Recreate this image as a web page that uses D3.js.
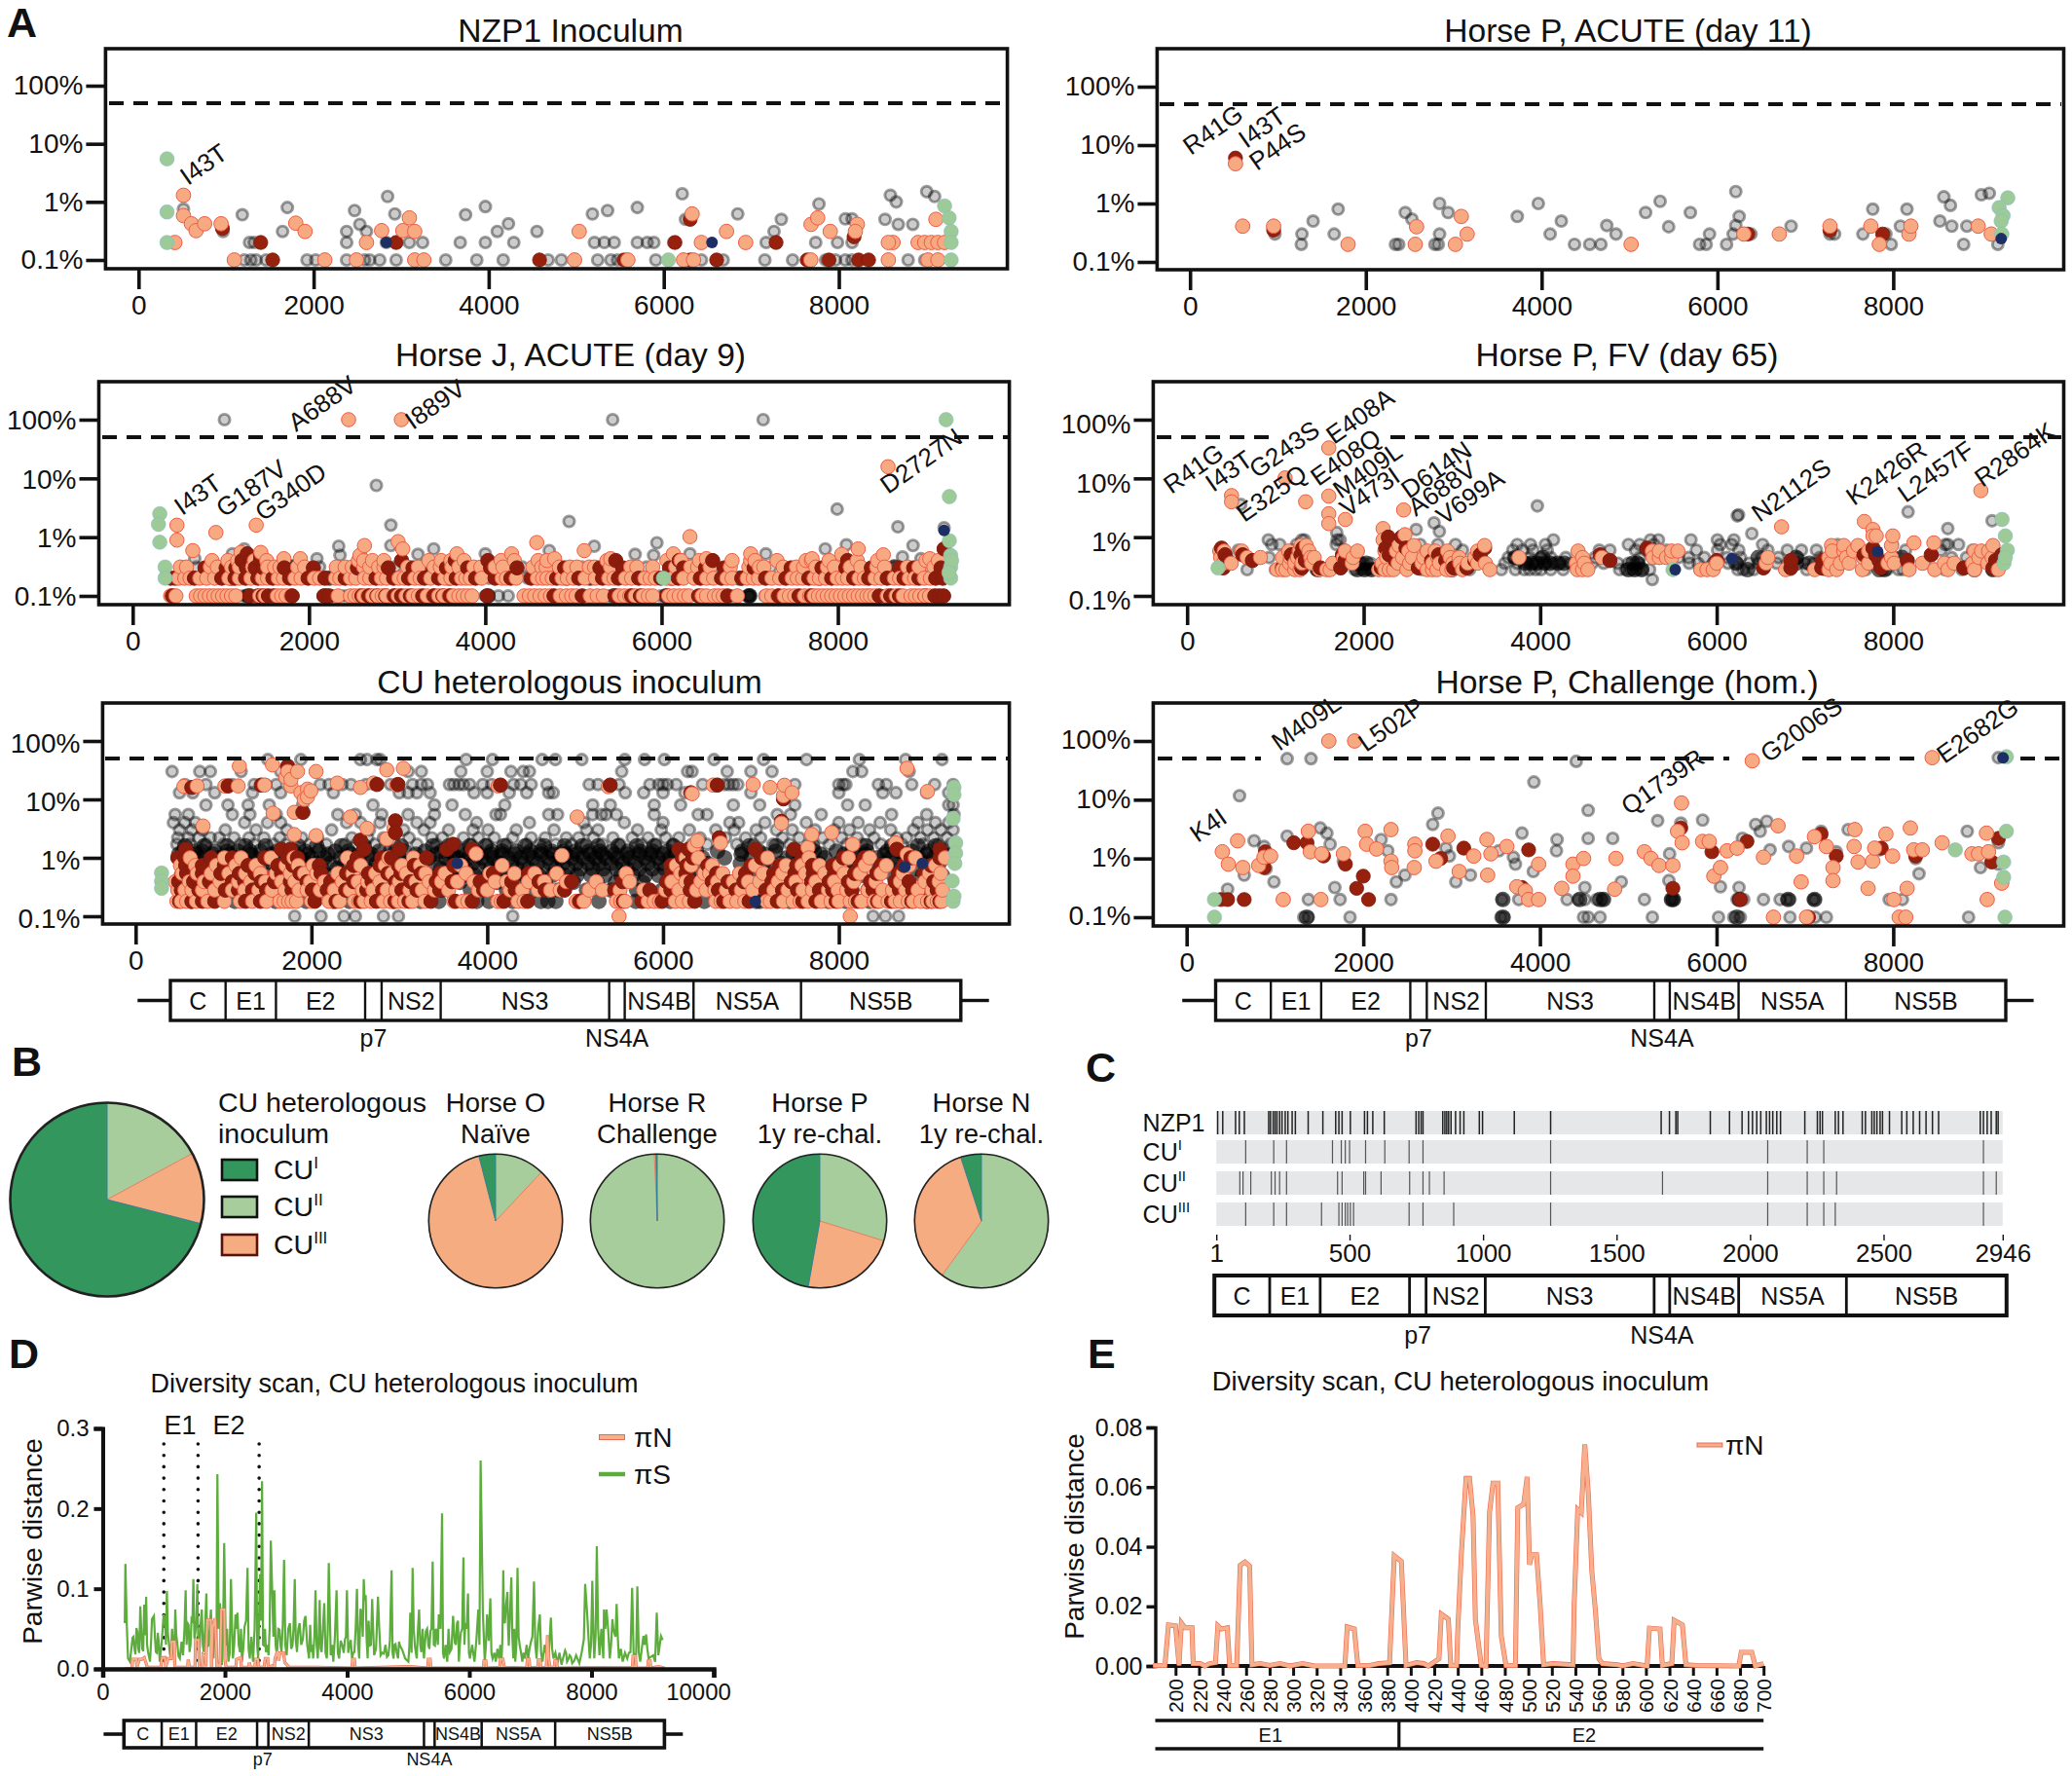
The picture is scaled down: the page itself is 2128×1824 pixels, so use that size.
<!DOCTYPE html>
<html>
<head>
<meta charset="utf-8">
<script src="https://cdn.jsdelivr.net/npm/d3@7"></script>
<style>
  html, body { margin: 0; padding: 0; background: #fff; }
  text { font-family: "Liberation Sans", Arial, sans-serif; fill: #111; }
</style>
</head>
<body>
<svg id="fig" width="2128" height="1824">
  <defs><filter id="soft" x="-2%" y="-2%" width="104%" height="104%"><feGaussianBlur stdDeviation="0.6"/></filter></defs>
</svg>
<script>
// series are lists of [position, freq %] or rows of [freq %, [positions]]
var nzpGrey = [
  [0.1,[1208,1283,1343,1457,1925,2023,2377,2581,2641,2755,2943,3509,3864,4166,4679,4830,5245,5396,5472,5547,5909,6264,6430,6604,6679,7155,7472,7849,7962,8075,8151,8566,8792,8981]],
  [0.2,[1268,1321,2377,2830,3094,3245,3675,3962,4287,5208,5321,5434,5698,5811,5887,6113,7170,7736,7985,8151]],
  [513,0.75],[966,0.31],[1185,0.6],[1645,0.31],[1700,0.8],[2845,1.24],[2468,0.71],[2528,0.41],[2377,0.31],[2604,0.31],[2928,0.62],[3736,0.6],[3962,0.83],[4226,0.42],[4098,0.31],[4551,0.31],[5185,0.62],[5358,0.71],[5698,0.8],[6211,1.38],[6249,0.5],[6845,0.62],[7260,0.31],[7343,0.5],[7773,0.92],[8075,0.51],[8151,0.51],[8589,1.3],[8656,1.0],[8528,0.5],[8679,0.41],[8845,0.41],[9004,1.5],[9094,1.24]
];
var nzpRed = [[1396,0.2],[1532,0.1],[2943,0.2],[4581,0.1],[5547,0.1],[6128,0.2],[6302,0.1],[6604,0.1],[7283,0.2],[7638,0.1],[7887,0.1],[8226,0.1],[8340,0.1],[958,0.35],[6302,0.5],[8174,0.25]];
var nzpOrange = [
  [0.1,[1094,2128,2490,3155,3260,4981,5590,6226,6340,7680,8566,9019,9132]],
  [0.2,[415,2604,6430,6936,8619,8566,8906,8981,9057,9132,9208]],
  [513,1.3],[513,0.58],[604,0.42],[657,0.32],[755,0.42],[943,0.42],[1796,0.43],[1902,0.31],[2777,0.32],[3094,0.53],[3019,0.32],[3155,0.31],[5034,0.31],[6324,0.62],[6717,0.31],[7683,0.41],[7758,0.53],[7902,0.31],[8211,0.41],[8189,0.31],[9109,0.5]
];
var nzpGreen = [[325,5.5],[325,0.67],[325,0.2],[6053,0.1],[9208,0.85],[9260,0.53],[9283,0.31],[9283,0.2],[9283,0.1]];
var nzpNavy = [[2830,0.2],[6551,0.2]];

var acuteGrey = [
  [0.2,[1266,2337,2374,2786,2824,4374,4547,4674,5797,5872,6104,7977,8801,9190]],
  [0.3,[966,1273,1640,2839,4097,4846,5910,6179,6382,7280,7333,7655,7917]],
  [1400,0.5],[1685,0.8],[2449,0.7],[2524,0.54],[2839,1.0],[2936,0.7],[3723,0.6],[3962,1],[4224,0.5],[4741,0.42],[5445,0.4],[5183,0.7],[5348,1.09],[5692,0.7],[6209,1.6],[6247,0.6],[6209,0.42],[6838,0.41],[7767,0.8],[8156,0.8],[8082,0.41],[8576,1.3],[8651,0.93],[8531,0.5],[8666,0.41],[8838,0.41],[9003,1.41],[9093,1.5]
];
var acuteRed = [[517,6],[951,0.35],[6345,0.3],[7880,0.3],[7280,0.35]];
var acuteOrange = [[517,4.8],[599,0.41],[951,0.41],[1798,0.2],[2562,0.2],[2577,0.4],[3019,0.2],[3086,0.6],[3153,0.3],[5018,0.2],[6300,0.3],[6704,0.3],[7280,0.41],[7745,0.41],[7842,0.2],[8179,0.3],[8201,0.41],[8966,0.41],[9115,0.3]];
var acuteGreen = [[9303,1.25],[9205,0.85],[9250,0.62],[9228,0.5],[9235,0.3]];
var acuteNavy = [[9228,0.25]];

var jGrey = [
  [0.1,[1250,1290,1320,1520,2160,2200,2260,2360,2420,4000,4040,4150,4260,5260,5400,5470,5650,5990,6050,6430,6800,6990,7000,7170,7300,7520,8530]],
  [0.2,[780,1120,1560,1980,2220,2700,3080,3220,3360,3590,4040,4480,4920,5190,5610,6110,6540,6890,7320,7790,8160,8610,8990]],
  [0.31,[720,1240,1800,2120,2980,3300,3980,4420,4760,5100,5360,5830,6250,6620,7240,7700,8170,8640,9030]],
  [1041,100],[5445,100],[7153,100],[2764,7.6],[7992,3],[4951,1.85],[2929,1.6],[8681,1.5],[9205,1.45],[5947,0.8],[5236,0.7],[2337,0.7],[2352,0.49],[3415,0.63],[2929,0.72],[6322,0.52],[7857,0.63],[8097,0.74],[8853,0.72],[5700,0.51],[5910,0.49],[4726,0.59],[1266,0.63],[1131,0.52],[3236,0.51],[4000,0.52],[7183,0.52],[8733,0.46],[8943,0.43],[2090,0.43],[704,0.43],[914,0.31]
];
var jCore = [
  [0.1,[1310,2190,4030,5460,6050,6990,7000]],
  [0.2,[1120,2230,3590,4920,5190,6110,6890,7790]],
  [0.31,[1240,1800,3300,3980,5360,6250,8170,8640]]
];
var jRed = [
  [0.1,[450,1330,1420,1480,1540,1600,1810,2170,2230,2600,2680,2770,2870,2970,3050,3150,3290,3420,3520,3600,4020,4780,5100,5470,5660,5760,6060,6420,6750,7330,7560,7700,8470,8600,8700,8990,9100,9150,9200]],
  [0.2,[430,480,700,1010,1160,1280,1420,1590,1780,1990,2180,2410,2760,2960,3130,3310,3470,3670,3890,4110,4290,4520,4810,5060,5330,5510,5740,5990,6190,6440,6680,6910,7180,7410,7670,7930,8180,8350,8560,8750,8920,9110,9190]],
  [0.3,[820,1060,1170,1290,1390,1480,1720,2050,2550,2900,3180,3560,3800,4060,4360,4900,5300,5560,6090,6250,6500,6710,7050,7470,7820,8090,8380,8700,8860,9170]],
  [0.4,[1240,1340,1450,3050,3660,4030,5480,6200,6580,8110]],
  [1300,0.52],[1450,0.5],[9205,0.63]
];
var jOrange = [
  [0.1,[430,490,720,770,820,870,920,970,1020,1070,1120,1170,1440,1500,1640,1690,1740,1800,2330,2470,2520,2570,2620,2670,2720,2780,2830,2880,2960,3010,3100,3180,3240,3340,3410,3470,3530,3590,3640,3700,3750,3800,3850,4440,4500,4560,4620,4680,4740,4850,4920,4980,5030,5190,5270,5340,5520,5580,5640,5700,5790,5850,5900,6080,6140,6200,6260,6310,6460,6510,6600,6650,6700,6860,7190,7250,7320,7390,7450,7510,7620,7680,7730,7780,7830,7880,7930,7980,8030,8080,8130,8180,8230,8280,8330,8370,8420,8560,8660,8740,8830,8880,8930,8990,9040]],
  [0.2,[520,590,650,760,840,930,1090,1210,1340,1470,1530,1650,1710,1840,1910,2060,2120,2300,2350,2470,2530,2630,2690,2820,2880,3020,3080,3200,3260,3380,3540,3610,3730,3780,3830,3960,4190,4240,4350,4590,4650,4700,4760,4870,4930,5000,5130,5250,5400,5460,5590,5660,5810,5870,5930,6060,6130,6250,6370,6510,6590,6740,6800,6970,7040,7100,7250,7340,7480,7540,7600,7730,7790,7860,7990,8050,8110,8240,8300,8420,8490,8640,8700,8810,8870,8980,9050]],
  [0.31,[540,610,880,960,1120,1210,1360,1530,1610,1670,1870,1950,2310,2410,2490,2620,2690,2790,2850,3120,3240,3420,3490,3620,3700,3870,3950,4110,4200,4540,4640,4690,4840,4960,5040,5180,5240,5420,5650,5720,5900,6160,6330,6410,6550,6780,6990,7110,7160,7380,7530,7610,7750,7880,7960,8140,8260,8440,8530,8790,8920,9090]],
  [0.4,[900,1080,1190,1380,1520,2620,2560,2720,2850,3360,3500,3610,3760,4180,4330,4600,4700,5380,6060,6220,6430,6800,7010,7060,7310,7640,7700,7900,8220,8450,9000,9140]],
  [2449,100],[3048,100],[8569,15.8],[502,1.6],[944,1.2],[1401,1.6],[502,0.89],[682,0.59],[4584,0.81],[5123,0.59],[6322,1.02],[2629,0.72],[3011,0.84],[8231,0.63],[8516,0.5],[8044,0.51],[7011,0.52],[6134,0.52],[4299,0.52],[3678,0.52],[1228,0.55],[1453,0.55],[2577,0.49],[3063,0.63],[1715,0.43],[1902,0.43],[7707,0.43],[9043,0.43],[5423,0.43],[4786,0.43],[6509,0.43]
];
var jGreen = [[307,2.5],[292,1.65],[307,0.82],[9228,100],[9265,4.9],[9265,0.87],[9280,0.49],[9280,0.31],[9280,0.2],[367,0.31],[367,0.2],[6022,0.2],[9290,0.4],[9260,0.25]];
var jNavy = [[9205,1.3]];

var cuGrey = [
  [48,[1504,1880,2557,2632,2745,2783,3760,4060,4625,4775,5076,5565,5790,6016,6580,7144,7633,8234,8760,9174]],
  [30,[415,730,850,1200,1650,3100,3250,3700,4000,4270,4410,4480,5530,6280,6330,6730,7000,7240,8160,8260,8800]],
  [18,[560,800,1100,1350,1480,1600,2100,2200,2350,2450,2620,2900,3150,3250,3320,3570,3620,3680,3730,3800,3950,4050,4300,4380,4500,4680,5160,5260,5500,5850,5950,6000,6050,6150,6450,6700,6750,6800,6850,7500,8000,8050,8080,8450,8540,8830,9090,9300]],
  [13,[500,650,900,1330,1650,2250,3000,3100,3200,3350,3850,4000,4250,4450,4700,4750,5570,5780,6000,6250,7000,8000,8500,8650,9000,9250]],
  [8,[800,1050,1280,1520,1900,2700,3400,3600,4200,5200,5400,5900,6200,6800,7100,7500,8100,8300,9250,9300]],
  [5.5,[450,600,1100,1300,1600,2300,2500,2800,3100,3400,3750,4100,4150,4700,4800,5200,5300,5350,5470,5900,6400,6500,7300,7450,7800,8600,9000,9310]],
  [4,[430,560,680,1240,1500,1650,2400,2560,2780,2950,3200,3350,3880,4480,5100,5560,6000,6760,6860,7160,7630,8000,8220,8470,8900,9100,9250]],
  [3,[500,640,760,1020,1370,1720,2230,2660,3050,3280,3560,3840,4010,4330,4760,5130,5260,5710,5980,6300,6600,6810,7060,7290,7470,7730,7950,8120,8350,8590,8850,9010,9160,9300]],
  [2.2,[480,600,720,850,950,1120,1290,1460,1640,1890,2070,2460,2640,2820,3110,3370,3490,3730,3900,4080,4290,4500,4660,4900,5040,5210,5430,5650,5830,6030,6180,6420,6710,6940,7110,7360,7550,7820,8030,8210,8400,8660,8770,8930,9080,9230]],
  [1.7,[470,620,800,1000,1190,1350,1570,1710,1980,2170,2380,2510,2720,2950,3200,3420,3640,3820,4000,4220,4450,4600,4780,4960,5120,5310,5510,5760,5920,6110,6330,6500,6840,7030,7250,7440,7660,7890,8090,8270,8480,8720,8960,9130,9270]],
  [0.1,[1810,2110,2370,2500,2820,2990,4290,8390,8530,8680]]
];
var cuCore = [
  [1.6,[560,780,1040,1250,1480,1850,2060,2340,2600,3020,3380,3560,3800,3980,4190,4430,4650,4880,5080,5260,5490,5700,5900,6120,6980,7290,7700,8310,8600,8900,9100]],
  [1.3,[540,670,760,900,1040,1160,1300,1420,1610,1800,1930,2090,2270,2420,2590,2770,2900,3060,3290,3480,3590,3710,3870,4050,4170,4330,4490,4610,4730,4870,5000,5160,5280,5420,5600,5740,5880,6050,6210,6380,6620,6900,7090,7280,7520,7720,7970,8150,8320,8550,8680,8830,9020,9210]],
  [1.15,[490,690,880,1080,1310,1540,1760,1960,2190,2450,2680,2930,3190,3420,3610,3760,3900,4040,4170,4320,4470,4610,4750,4890,5020,5170,5310,5450,5590,5730,5860,6000,6140,6300,6890,7150,7480,7790,8060,8300,8520,8770,9000,9190]],
  [1.0,[520,640,760,960,1120,1360,1500,1680,1880,2000,2150,2330,2500,2680,2840,3000,3170,3340,3530,3660,3790,3940,4070,4240,4380,4520,4690,4830,4960,5090,5230,5350,5480,5620,5790,5940,6080,6260,6450,6700,7000,7190,7410,7610,7840,8050,8230,8440,8590,8750,8910,9080,9190]],
  [0.8,[560,700,880,1010,1130,1260,1440,1560,1730,1950,2060,2210,2380,2550,2740,2880,3080,3250,3390,3560,3700,3830,3990,4130,4280,4410,4570,4720,4860,5010,5150,5270,5410,5540,5680,5830,5970,6130,6310,6510,6880,7140,7340,7560,7770,7990,8180,8370,8510,8640,8800,8980,9140]],
  [0.65,[640,790,930,1200,1330,1620,1830,2120,2290,2620,2810,2970,3130,3470,3610,3760,3910,4040,4190,4340,4470,4630,4780,4920,5060,5200,5320,5470,5590,5730,5880,6020,6170,6350,7040,7250,7650,7930,8100,8470,8700,8870,9050]],
  [0.5,[520,680,860,1080,1280,1520,1740,2010,2190,2430,2700,2930,3210,3430,3580,3730,3860,4010,4150,4300,4430,4590,4740,4890,5020,5180,5340,5520,5660,5800,5950,6120,6290,7180,7480,7870,8250,8620,8950,9180]],
  [0.38,[760,1040,1380,1650,1900,2350,2560,2880,3310,3690,3950,4110,4380,4660,4980,5250,5460,5770,6060,6220,6880,7320,7720,8080,8410,8760,9100]],
  [0.28,[590,930,1230,1720,2110,2470,2760,3050,3480,3810,4220,4540,4810,5130,5410,5700,5990,6170,6770,7200,7640,7990,8330,8680,9040]],
  [0.18,[630,1130,1590,1940,2250,2430,2930,3240,3450,3880,4020,4290,4610,4690,4780,5040,5270,5690,6080,6470,7060,7100,7440,7880,8080,8350,8720,9000]]
];
var cuRed = [
  [0.18,[500,640,760,900,1250,1420,2040,2280,2560,2740,2950,3110,3360,3640,3830,4190,4460,5050,5550,5760,5990,6360,6690,6980,7300,7590,7740,7970,8220,8440,8600,8830,9050,9150]],
  [0.28,[520,720,1020,1170,1330,1490,1780,2010,2180,2390,2630,2810,3030,3200,3460,3960,4320,4660,4880,5450,5850,6090,6310,6630,6830,7170,7360,7530,7780,7930,8150,8390,8690,8840,9120]],
  [0.39,[490,660,840,1100,1240,1430,1580,1760,1950,2220,2480,2690,2960,3130,3420,3600,3920,4280,4590,4960,5540,6040,6320,6560,6740,6920,7240,7460,7690,7890,8110,8360,8640,8800,9080]],
  [0.54,[580,760,970,1180,1360,1660,1870,2110,2400,2650,2870,3020,3250,3460,4070,4470,6100,6260,6610,6940,7260,7500,7710,7950,8180,8430,8680,8970]],
  [0.74,[570,760,1010,1280,1620,1790,2090,2480,2780,2990,3170,3620,6090,6270,6510,7000,7330,7520,7700,7930,8240,8480,8740,9050]],
  [1.0,[480,560,860,1100,1470,1730,1840,2520,2800,2910,3310,6220,6340,7120,7580,8050,8290,8820,9150]],
  [1.4,[570,1660,1760,2600,3000,3540,3830,6180,6290,7050,7490,7640,8660,9150]],
  [1730,37],[639,16],[1053,17],[1429,17.6],[2745,18],[2985,18],[4151,17.6],[5399,17.6],[6317,13],[6618,17.6],[7370,10.2],[1903,6],[2955,4.3],[2955,2.7],[2557,2],[7347,4.2],[6640,2.2],[3610,1.7]
];
var cuOrange = [
  [0.18,[470,520,580,690,820,1010,1190,1330,1490,1640,1690,1740,1780,1830,2000,2200,2320,2490,2540,2600,2680,2820,2900,2990,3060,3150,3290,3620,3720,3780,4120,4160,4350,4420,5010,5100,5470,5520,5570,5830,5900,5960,6140,6220,6300,6600,6660,6760,6840,6930,7180,7220,7370,7480,7560,7650,7800,7910,8000,8130,8190,8260,8400,8460,8560,8640,8700,8790,8850,8930,9010,9070,9120,9170]],
  [0.28,[480,560,640,760,900,1100,1240,1400,1550,1700,1860,1950,2100,2260,2440,2580,2700,2860,2960,3120,3260,3400,3560,3900,4000,4260,4400,4580,4720,4830,5160,5310,5510,5780,6030,6180,6380,6490,6590,6720,6890,7020,7260,7420,7590,7700,7880,7990,8090,8330,8500,8610,8760,8900,9060,9180]],
  [0.39,[450,610,780,960,1170,1310,1480,1660,1810,1990,2150,2350,2530,2640,2780,3000,3190,3340,3480,3660,3850,4090,4220,4470,4650,4900,5240,5620,6100,6260,6430,6620,6800,6970,7100,7310,7510,7740,7950,8170,8420,8700,8980,9140]],
  [0.54,[530,700,860,1060,1250,1420,1600,1760,1920,2060,2300,2470,2730,2920,3080,3300,3520,3760,4030,4310,4540,4790,5580,6200,6470,6530,6680,6870,7140,7360,7620,7840,8060,8240,8480,8730,9030,9160]],
  [0.74,[510,680,920,1140,1370,1710,1850,2020,2560,2840,3030,3240,3700,4170,6150,6320,6560,7050,7400,7580,7780,8010,8300,8540,8800,9100]],
  [1.0,[620,1010,1200,1540,1800,2410,2880,3160,6260,6400,7190,7660,8110,8350,8870,9210]],
  [5500,0.1],[8130,0.1],
  [1180,37],[1557,39],[1730,30],[1842,30],[2053,30],[2857,32],[3046,34],[8776,34],[549,16.7],[699,17],[1015,17],[1166,17],[1466,17.6],[1767,17],[1955,15],[1993,14],[2294,19],[2557,16],[2707,19],[2970,17.6],[4125,17],[5377,16.5],[6332,12.5],[6570,17.6],[7025,18],[7219,16],[7380,17.5],[7467,13],[7370,11.5],[9009,13.7],[1564,5.8],[1805,6],[1918,10],[1767,22],[1707,24],[1880,13],[1955,11],[2444,5],[767,3.5],[2632,3.2],[5023,5],[1805,2.5],[2053,2.4],[2940,3.2],[2857,2.1],[4850,1.1],[3873,1.17],[7347,3.9],[7693,2.5],[7919,2.7],[8159,1.7],[8648,1.8],[6392,1.95],[6655,1.8],[6355,1.6],[7648,1.5],[8776,1.15]
];
var cuGreen = [[295,0.55],[295,0.4],[295,0.3],[9310,16],[9310,12],[9300,4.7],[9330,1.8],[9330,1.2],[9320,0.8],[9290,0.4],[9300,0.18],[9310,0.22]];
var cuNavy = [[7050,0.18],[3660,0.8],[8750,0.7],[8950,0.8]];

var fvGrey = [
  [0.28,[680,1000,1460,1520,1900,1980,2040,2100,2170,2660,3200,3560,3720,3820,3880,3950,4010,4120,4260,4900,4970,5040,5100,5160,5240,5810,6240,6300,6420,6830,7020,7220,7690,7880,7930,8060,8110,8580,8780,9120,9170]],
  [0.36,[2000,2080,2630,3040,3600,3740,3850,3920,3980,4060,4150,4230,4340,4430,4590,4720,4880,5000,5120,5690,5790,5960,6130,6230,6370,6470,6680,6840,7000,7100,7410,7730,7880,7960,8350,8620,8880,9110]],
  [0.45,[930,1130,1830,2320,2690,3250,3640,3700,3880,4010,4120,4290,4620,4730,5130,5350,5570,5680,5860,6120,6270,6510,6700,6920,7170,7650,7840,8020,8660,8830,9110]],
  [0.6,[400,580,1200,1290,1780,2610,3120,3690,3800,3920,4080,4670,4790,5080,5200,5430,5770,6010,6250,6580,6800,6960,7130,8140,8540,8900]],
  [0.75,[960,1050,1240,1690,2640,2840,3040,3740,3890,4060,5000,5130,5290,6040,6170,6520,7370,7990,8590,8620,8740]],
  [0.9,[920,1300,1330,1700,5250,5340,5708,6008,6195,4150]],
  [0.19,[5270]],
  [3968,3.4],[6233,2.3],[6248,2.4],[8168,2.7],[9120,1.9],[8618,1.4],[2798,1.75],[2858,1.25],[2595,1.35],[1695,1.2],[1733,0.9],[6398,1.15],[608,3.6]
];
var fvCore = [
  [0.36,[1950,2030,3830,3900,3960,4050,4110,4200,4270,5050,5100,6220,6900,7050,7870,7930,9140]],
  [0.28,[1480,1930,2010,2090,3000,5000,5070,5150,6350,7840,7900,8920,9130]],
  [0.45,[1780,3720,4030,6470,6900,8100]]
];
var fvRed = [
  [0.3,[410,1080,1300,1510,1740,2200,2620,3020,3090,3170,6530,6840,7190,7860,8800,9130]],
  [0.4,[460,740,1220,1340,1790,2360,2770,2930,3260,4790,6000,6840,7200,7840,8160,9160]],
  [0.5,[430,630,1180,1290,1760,2290,2850,3320,4680,7670,7800,8430,9230]],
  [0.65,[390,1310,1340,2250,2480,3370,5210,7770]],
  [1.0,[2280,2430]]
];
var fvOrange = [
  [0.28,[1020,1080,1120,1220,1280,1500,1580,1620,2170,2240,2290,2340,2490,2720,2780,2830,2940,3000,3120,3430,4420,4480,4540,5820,5890,5960,6780,7110,7270,7360,7650,8180,8470,8620,8920,9190]],
  [0.36,[410,500,1160,1220,1300,1410,1650,1870,2210,2390,2520,2660,2780,2860,3010,3090,3180,3290,3380,4410,4500,6000,6560,7290,7400,7500,7720,7940,8010,8330,8580,8690,8900,9070]],
  [0.45,[380,680,830,1080,1170,1250,1400,1440,1770,1880,2260,2440,2550,2680,2840,2980,3080,3260,3760,4480,4700,5280,5350,5430,5490,6580,7270,7470,7660,7980,8970,9120]],
  [0.58,[370,420,620,1150,1270,1380,1790,1930,2240,2370,2510,2720,2810,2950,3290,4430,5270,5350,5490,5560,7310,7440,7550,7720,8920,9000,9080]],
  [0.72,[1290,1350,2400,2570,3370,7300,7440,7600,7980,9130]],
  [503,5.1],[503,4],[1110,10.2],[1343,4],[1605,33],[1605,5],[1605,2.5],[1605,1.7],[1793,2],[2453,2.9],[2220,1.4],[2220,0.9],[2468,1.1],[6735,1.5],[7673,1.85],[7770,1.35],[7808,1.05],[7995,1.05],[8235,0.8],[8460,0.8],[8993,6.2],[7770,1.05]
];
var fvGreen = [[9233,2],[9270,1.05],[9293,0.6],[9255,0.36],[9270,0.45],[5505,0.28],[350,0.3]];
var fvNavy = [[7823,0.57],[6173,0.43],[5530,0.28]];

var chGrey = [
  [0.2,[464,1378,1738,2060,2314,3573,3760,4307,4434,4509,4644,4719,5183,5483,5520,6232,6307,6531,6719,6794,6831,7093,7115,7954,8104]],
  [0.1,[1326,1378,1850,3558,3595,4494,4546,4681,5273,6022,6194,6269,6831,7115,7243,8853]],
  [1138,50],[1408,50],[4411,45],[9190,52],[3932,20],[599,11.7],[4546,6.6],[2846,5.9],[2786,3.8],[5333,4.4],[5595,4.0],[5842,4.5],[6442,3.8],[6569,4.3],[6494,2.9],[3797,2.7],[1513,3.3],[1588,2.7],[1138,2.4],[2202,2.1],[764,2.0],[876,1.6],[1625,1.75],[2277,1.35],[4194,2.1],[4187,1.35],[4546,2.2],[4824,2.2],[6292,2.2],[6606,1.4],[6816,1.6],[7018,1.5],[7183,2.9],[7355,1.3],[7490,3.1],[7842,1.4],[8254,1],[8292,0.55],[8838,2.9],[8988,0.7],[9191,1.85],[9191,0.8],[989,0.4],[899,0.67],[652,0.52],[1775,0.9],[1678,0.32],[2374,0.4],[2472,0.52],[2974,1.1],[2936,1.5],[3048,0.4],[3213,0.52],[3535,1.35],[3700,1.05],[3723,0.8],[3925,0.6],[4509,0.32],[4921,0.4],[5460,0.42],[5468,1.2],[6044,0.33],[6254,0.32],[464,0.3]
];
var chCore = [[0.2,[3580,4450,4680,4720,5490,5510,6260,6810,7110]],[0.1,[1360,3580,6230]]];
var chRed = [[1213,1.85],[1363,1.85],[1550,1.1],[1798,0.8],[1925,0.31],[2000,0.5],[2060,0.2],[2786,1.75],[2876,1],[3138,1.5],[3872,1.4],[3797,0.32],[5505,0.31],[5595,3.3],[5947,1.3],[6269,0.2],[6344,1.95],[7041,0.1],[7183,2.6],[7355,1.1],[7865,1.5],[8254,1.1],[876,0.7],[891,1.3],[9191,2.2],[9116,0.87],[652,0.2],[389,0.2],[464,0.2]];
var chOrange = [[1610,100],[1902,100],[6404,46],[8441,52],[5603,8.8],[577,2.0],[404,1.3],[472,0.8],[637,0.7],[816,0.76],[876,1.05],[951,1.1],[1094,0.2],[1378,2.9],[1400,1.3],[1528,1.2],[1520,0.2],[1775,1.2],[2022,2.9],[2037,1.75],[2150,1.45],[2314,3.1],[2314,0.9],[2322,0.7],[2584,1.75],[2584,1.35],[2577,0.7],[2824,0.9],[2959,2.4],[3086,0.6],[3251,1.1],[3400,2.1],[3408,0.52],[3445,1.2],[3625,1.6],[3738,0.33],[3835,0.28],[3872,0.2],[3985,0.8],[3985,0.2],[4247,0.31],[4374,0.8],[4374,0.5],[4494,1],[4861,1],[4846,0.3],[5183,1.3],[5258,1],[5348,0.76],[5505,0.76],[5558,2.9],[5610,1.85],[5842,1.95],[5917,1.95],[5969,0.5],[6044,0.7],[6119,1.35],[6232,1.5],[6531,1.05],[6696,3.6],[6644,0.1],[6906,1.1],[6958,0.4],[7018,0.1],[7108,2.35],[7243,1.6],[7318,0.7],[7318,0.42],[7557,1.6],[7565,3.1],[7602,0.87],[7715,0.31],[7767,0.9],[7790,1.5],[7917,2.6],[7992,1.1],[8007,0.2],[8067,0.1],[8142,0.1],[8157,0.31],[8194,3.3],[8232,1.4],[8329,1.4],[8554,1.85],[8891,1.2],[8966,1.2],[9056,2.7],[9064,0.2],[9079,1.3],[9228,0.38]];
var chGreen = [[315,0.2],[315,0.1],[8703,1.4],[9281,2.9],[9250,0.87],[9250,0.48],[9265,0.1],[9281,54]];
var chNavy = [[9243,52]];

var geneEdges = [397,1026,1600,2616,2804,3477,5397,5574,6358,7583,9404];
var geneNames = ["C","E1","E2","","NS2","NS3","","NS4B","NS5A","NS5B"];

var pieNames = ["CU heterologous inoculum","Horse O","Horse R","Horse P","Horse N"];
var pieSub = ["","Naïve","Challenge","1y re-chal.","1y re-chal."];
var pieInoculum = [17.1,11.9,71];
var pieO = [12,84,4];
var pieR = [99.3,0.4,0.3];
var pieP = [29.8,23,47.2];
var pieN = [60,35,5];
var pieColors = ["#a6cd9b","#f5ac80","#33965c"];
var pieEdges = ["#a6cd9b","#e8775c","#2e7fa0"];

var conNZP1 = [6,25,73,87,106,197,204,214,221,228,238,247,259,269,285,297,345,400,448,460,472,503,556,567,587,630,749,759,768,775,849,857,864,871,880,897,914,928,986,998,1117,1253,1667,1698,1722,1729,1851,1923,1970,1994,2009,2025,2040,2061,2073,2085,2100,2114,2205,2252,2262,2271,2319,2331,2348,2420,2432,2456,2465,2475,2487,2496,2522,2568,2587,2611,2635,2659,2683,2706,2862,2874,2888,2903,2922,2929];
var conCU1 = [111,216,264,436,469,484,500,560,632,723,775,1253,2066,2214,2276,2874];
var conCU2 = [89,101,130,207,221,238,264,455,472,553,560,618,725,775,799,854,1253,1672,2066,2214,2276,2324,2874,2922];
var conCU3 = [111,216,264,395,460,472,484,493,503,515,723,775,890,1253,2066,2214,2276,2319,2874];
var conTicks = [1,500,1000,1500,2000,2500,2946];

var piSx = [361,371,393,414,446,488,520,552,583,615,647,679,711,742,774,806,838,870,901,933,965,997,1018,1050,1082,1113,1156,1188,1219,1262,1315,1357,1389,1421,1453,1484,1516,1548,1580,1622,1654,1696,1728,1771,1813,1845,1877,1919,1951,1988,2014,2057,2099,2131,2173,2205,2248,2279,2322,2370,2407,2460,2513,2544,2576,2608,2640,2672,2714,2751,2778,2809,2852,2894,2926,2968,3011,3064,3106,3143,3180,3223,3276,3318,3377,3414,3445,3483,3520,3551,3583,3626,3668,3700,3732,3774,3827,3869,3922,3965,3997,4039,4081,4119,4161,4198,4240,4272,4304,4336,4368,4410,4442,4505,4548,4601,4675,4728,4760,4792,4834,4865,4907,4950,5003,5034,5072,5109,5140,5178,5215,5257,5289,5331,5363,5400,5437,5469,5501,5554,5586,5639,5681,5734,5761,5798,5829,5861,5904,5935,5978,6010,6084,6147,6185,6222,6253,6291,6344,6381,6434,6487,6529,6556,6582,6624,6646,6688,6720,6752,6789,6826,6868,6911,6964,7006,7059,7101,7154,7197,7271,7335,7377,7441,7510,7568,7600,7642,7684,7748,7801,7875,7896,7928,7971,8013,8045,8087,8130,8193,8204,8246,8299,8342,8373,8411,8448,8511,8585,8638,8665,8713,8750,8797,8850,8893,8935,9009,9041,9068,9094,9137,9165];
var piSy = [.057,.131,.057,.013,.009,.039,.025,.051,.025,.078,.025,.080,.090,.021,.009,.062,.066,.021,.045,.009,.033,.068,.062,.097,.033,.013,.025,.074,.033,.013,.017,.098,.057,.021,.062,.112,.045,.106,.013,.074,.021,.094,.029,.074,.013,.045,.243,.082,.005,.157,.029,.009,.112,.013,.068,.070,.021,.009,.053,.126,.013,.009,.195,.013,.118,.234,.029,.021,.017,.160,.086,.098,.017,.049,.021,.136,.017,.057,.029,.112,.021,.057,.037,.066,.013,.021,.013,.098,.013,.086,.021,.082,.013,.132,.017,.009,.098,.013,.029,.037,.098,.029,.013,.021,.100,.013,.070,.112,.092,.013,.029,.087,.017,.090,.017,.019,.017,.123,.013,.031,.013,.029,.023,.013,.009,.070,.126,.029,.013,.074,.021,.013,.047,.029,.047,.134,.029,.045,.068,.194,.013,.009,.021,.066,.033,.057,.009,.045,.139,.057,.094,.013,.009,.074,.260,.070,.009,.068,.088,.013,.009,.013,.013,.123,.057,.096,.029,.114,.013,.009,.126,.029,.009,.013,.013,.033,.109,.013,.068,.009,.013,.064,.013,.007,.005,.023,.009,.017,.007,.017,.007,.037,.106,.070,.013,.110,.013,.153,.017,.013,.074,.074,.013,.062,.045,.081,.013,.009,.013,.021,.101,.013,.103,.009,.041,.043,.013,.017,.009,.070,.017,.041,.036];
// low level hatching between the peaks
var piSlow = [[500,.04],[535,.018],[568,.046],[598,.02],[630,.05],[663,.022],[695,.042],[726,.03],[792,.035],[854,.04],[886,.02],[917,.034],[981,.05],[1035,.03],[1066,.045],[1098,.02],[1135,.05],[1172,.02],[1204,.042],[1240,.016],[1290,.034],[1338,.05],[1373,.03],[1405,.055],[1437,.03],[1469,.06],[1500,.038],[1532,.06],[1564,.03],[1601,.055],[1638,.03],[1675,.05],[1712,.028],[1750,.05],[1792,.03],[1829,.05],[1861,.022],[1898,.05],[1935,.024],[1970,.05],[2035,.05],[2078,.02],[2115,.06],[2152,.03],[2189,.05],[2226,.03],[2263,.05],[2300,.025],[2346,.06],[2388,.025],[2433,.04],[2486,.05],[2528,.03],[2590,.06],[2624,.03],[2656,.05],[2693,.03],[2732,.05],[2793,.04],[2830,.03],[2873,.05],[2910,.03],[2947,.055],[2989,.03],[3037,.05],[3085,.025],[3123,.05],[3160,.035],[3201,.05],[3249,.03],[3297,.06],[3347,.03],[3395,.055],[3429,.03],[3464,.04],[3501,.03],[3535,.04],[3567,.025],[3604,.05],[3647,.02],[3684,.05],[3753,.03],[3800,.04],[3848,.02],[3895,.035],[3944,.02],[3981,.04],[4018,.02],[4060,.036],[4100,.02],[4140,.05],[4180,.03],[4219,.075],[4256,.04],[4288,.085],[4320,.035],[4352,.06],[4389,.03],[4426,.05],[4473,.025],[4526,.05],[4574,.02],[4628,.03],[4652,.015],[4700,.035],[4744,.02],[4776,.03],[4813,.02],[4850,.034],[5020,.03],[5055,.02],[5090,.05],[5125,.02],[5160,.05],[5197,.03],[5236,.05],[5273,.03],[5310,.05],[5347,.025],[5381,.05],[5419,.03],[5453,.05],[5485,.03],[5528,.05],[5570,.02],[5612,.03],[5660,.05],[5708,.025],[5747,.05],[5780,.03],[5815,.06],[5845,.03],[5883,.05],[5920,.03],[5957,.05],[5994,.02],[6047,.03],[6115,.035],[6166,.03],[6272,.03],[6318,.035],[6362,.02],[6410,.02],[6460,.025],[6508,.03],[6542,.04],[6569,.06],[6603,.08],[6635,.05],[6667,.07],[6704,.04],[6736,.05],[6770,.03],[6807,.04],[6847,.02],[6890,.02],[6938,.03],[6985,.025],[7032,.04],[7080,.03],[7127,.05],[7175,.02],[7234,.03],[7303,.02],[7356,.025],[7409,.02],[7475,.02],[7539,.015],[7584,.02],[7621,.012],[7663,.015],[7716,.01],[7775,.012],[7838,.02],[7950,.04],[7992,.03],[8029,.05],[8066,.04],[8108,.05],[8161,.05],[8225,.05],[8272,.05],[8320,.03],[8357,.05],[8392,.04],[8430,.04],[8480,.025],[8548,.02],[8612,.02],[8689,.02],[8731,.02],[8774,.02],[8823,.025],[8871,.03],[8914,.025],[8972,.015]];
var piNscan = [[361,0],[480,0],[490,.012],[550,.012],[560,.002],[600,.012],[640,.012],[680,.014],[730,.002],[950,.002],[970,.014],[1020,.014],[1030,.002],[1070,.013],[1120,.013],[1130,.034],[1170,.034],[1180,.002],[1390,.002],[1400,.012],[1420,.002],[1510,.002],[1520,.036],[1570,.036],[1580,.002],[1630,.002],[1640,.018],[1680,.016],[1690,.003],[1710,.061],[1770,.061],[1780,.002],[1800,.052],[1840,.063],[1870,.002],[1880,.006],[1920,.002],[1940,.074],[1990,.074],[2000,.012],[2020,.002],[2180,.002],[2190,.012],[2260,.014],[2270,.002],[2390,.002],[2400,.008],[2420,.002],[2490,.002],[2500,.012],[2540,.012],[2550,.002],[2640,.002],[2660,.013],[2700,.013],[2710,.002],[2770,.004],[2810,.002],[2820,.013],[2860,.022],[2880,.010],[2900,.02],[2960,.02],[2980,.008],[3050,.002],[3500,.002],[4080,.001],[4090,.012],[4120,.012],[4130,.001],[5020,.003],[5320,.001],[5330,.012],[5360,.012],[5370,.001],[6230,.001],[6240,.01],[6270,.01],[6280,.001],[6500,.002],[6510,.012],[6550,.012],[6570,.002],[6940,.001],[6950,.012],[6980,.012],[6990,.001],[7120,.002],[7130,.011],[7160,.011],[7170,.001],[7260,.002],[7280,.042],[7300,.012],[7320,.002],[7390,.002],[7400,.01],[7430,.01],[7440,.001],[8670,.002],[8680,.016],[8720,.016],[8730,.001],[8920,.001],[8930,.01],[8960,.01],[8970,.001],[9100,.003],[9200,.001]];
var scanTicks = [0,2000,4000,6000,8000,10000];
var scanY = [0,0.1,0.2,0.3];
var regionLines = [1000,1560,2560];

var e2aa = [181,191,194,200,203,205,208,214,215,221,225,229,234,236,239,244,246,252,255,259,263,265,272,280,289,297,308,318,344,346,352,355,365,373,382,386,392,396,405,411,415,424,426,432,434,439,440,443,447,450,453,455,460,464,467,470,474,477,481,489,491,496,499,501,503,507,510,513,521,538,539,542,545,548,551,554,557,560,563,576,580,589,601,603,612,614,622,624,631,634,643,679,681,690,693,700];
var e2pi = [.0002,.0002,.0138,.0135,.0002,.0144,.0128,.0128,.0008,.0008,0,.0008,.0011,.0135,.0124,.0128,.0002,.0002,.0338,.0349,.0335,.0004,.0008,.0002,.0008,0,.0008,0,0,.0131,.0124,.0002,.0002,.0008,.0011,.0370,.0351,.0002,.0011,.0008,0,.0024,.0174,.0157,.0002,.0002,.0120,.0373,.0629,.0629,.0504,.0155,.0002,0,.0515,.0613,.0613,.0100,.0002,.0002,.0531,.0542,.0634,.0340,.0373,.0373,.0209,.0004,.0008,.0004,.0209,.0525,.0514,.0743,.0580,.0318,.0187,.0024,.0008,.0004,0,.0008,0,.0127,.0124,.0002,.0008,.0153,.0138,.0004,.0002,0,.0046,.0046,0,.0008];
var eTicks = [200,220,240,260,280,300,320,340,360,380,400,420,440,460,480,500,520,540,560,580,600,620,640,660,680,700];
var eY = [0,0.02,0.04,0.06,0.08];
var eBoundary = 390;

var svg = d3.select("#fig");

function flat(s) {
  return s.flatMap(function(d) {
    return Array.isArray(d[1]) ? d[1].map(function(x) { return [x, d[0]]; }) : [d];
  });
}

function genomeMap(m) {
  var g = svg.append("g");
  var x = d3.scaleLinear().domain([geneEdges[0], geneEdges[10]]).range([m.l, m.r]);
  var w = m.sw;
  g.append("line").attr("x1", m.ll).attr("x2", m.l).attr("y1", (m.t + m.b) / 2).attr("y2", (m.t + m.b) / 2).attr("stroke", "#111").attr("stroke-width", w);
  g.append("line").attr("x1", m.r).attr("x2", m.lr).attr("y1", (m.t + m.b) / 2).attr("y2", (m.t + m.b) / 2).attr("stroke", "#111").attr("stroke-width", w);
  g.append("rect").attr("x", m.l).attr("y", m.t).attr("width", m.r - m.l).attr("height", m.b - m.t)
    .attr("fill", "#fff").attr("stroke", "#111").attr("stroke-width", w);
  geneEdges.slice(1, 10).forEach(function(e) {
    g.append("line").attr("x1", x(e)).attr("x2", x(e)).attr("y1", m.t).attr("y2", m.b).attr("stroke", "#111").attr("stroke-width", w * 0.7);
  });
  geneNames.forEach(function(n, i) {
    if (!n) return;
    g.append("text").attr("x", (x(geneEdges[i]) + x(geneEdges[i + 1])) / 2).attr("y", (m.t + m.b) / 2).attr("dy", "0.36em")
      .attr("text-anchor", "middle").attr("font-size", m.fs).text(n);
  });
  g.append("text").attr("x", x((geneEdges[3] + geneEdges[4]) / 2)).attr("y", m.ly).attr("dy", "0.36em").attr("text-anchor", "middle").attr("font-size", m.fs).text("p7");
  g.append("text").attr("x", x((geneEdges[6] + geneEdges[7]) / 2)).attr("y", m.ly).attr("dy", "0.36em").attr("text-anchor", "middle").attr("font-size", m.fs).text("NS4A");
}

function dots(g, data, x, y, r, fill, stroke, sw) {
  g.append("g").selectAll("circle").data(flat(data)).join("circle")
    .attr("cx", function(d) { return x(d[0]); }).attr("cy", function(d) { return y(d[1]); }).attr("r", r)
    .attr("fill", fill).attr("stroke", stroke).attr("stroke-width", sw);
}

// red and orange drawn in position order so neighbours leave crescents
function mixedDots(g, red, orange, x, y) {
  var all = flat(red).map(function(d) { return [d[0], d[1], "r"]; })
    .concat(flat(orange).map(function(d) { return [d[0], d[1], "o"]; }))
    .sort(function(a, b) { return a[0] - b[0]; });
  g.append("g").selectAll("circle").data(all).join("circle")
    .attr("cx", function(d) { return x(d[0]); }).attr("cy", function(d) { return y(d[1]); }).attr("r", 7.3)
    .attr("fill", function(d) { return d[2] == "r" ? "#8e1f0e" : "#f7a982"; })
    .attr("stroke", function(d) { return d[2] == "r" ? "#7d1a0c" : "#ee5a44"; })
    .attr("stroke-width", 1);
}

function scatterPanel(p) {
  var g = svg.append("g");
  var x = d3.scaleLinear().domain([0, 8000]).range(p.xr);
  var y = d3.scaleLog().domain([0.1, 100]).range(p.yr);
  var marks = g.append("g").attr("filter", "url(#soft)");

  dots(marks, p.grey, x, y, 5.6, "rgba(0,0,0,0.2)", "rgba(0,0,0,0.38)", 2.9);
  if (p.core) dots(marks, p.core, x, y, 8, "rgba(0,0,0,0.62)", "none", 0);
  if (p.mixed) {
    mixedDots(marks, p.red, p.orange, x, y);
  } else {
    dots(marks, p.red, x, y, 7.2, "#96200f", "#7d1a0c", 0.8);
    dots(marks, p.orange, x, y, 7.4, "#f7a982", "#ee5a44", 1);
  }
  dots(marks, p.green, x, y, 7.4, "#9ccb97", "#8fb8c4", 0.6);
  dots(marks, p.navy, x, y, 6, "#1d2f63", "none", 0);

  p.dash.forEach(function(s) {
    g.append("line").attr("x1", s[0]).attr("x2", s[1]).attr("y1", p.dashY).attr("y2", p.dashY)
      .attr("stroke", "#111").attr("stroke-width", 4).attr("stroke-dasharray", "15 10");
  });

  g.append("rect").attr("x", p.box[0]).attr("y", p.box[2]).attr("width", p.box[1] - p.box[0]).attr("height", p.box[3] - p.box[2])
    .attr("fill", "none").attr("stroke", "#111").attr("stroke-width", 3.6);

  var xAxis = d3.axisBottom(x).tickValues([0, 2000, 4000, 6000, 8000]).tickFormat(d3.format("d")).tickSize(21).tickPadding(6);
  var yAxis = d3.axisLeft(y).tickValues([0.1, 1, 10, 100]).tickFormat(function(d) { return d + "%"; }).tickSize(20).tickPadding(3);
  var ax = g.append("g").attr("transform", "translate(0," + p.box[3] + ")").call(xAxis);
  var ay = g.append("g").attr("transform", "translate(" + p.box[0] + ",0)").call(yAxis);
  [ax, ay].forEach(function(a) {
    a.select(".domain").remove();
    a.selectAll("line").attr("stroke", "#111").attr("stroke-width", 3.6);
    a.selectAll("text").attr("font-size", 28).attr("font-family", null).style("fill", "#111");
  });
  if (p.labelDy) ay.selectAll("text").attr("transform", "translate(0," + p.labelDy + ")");

  g.append("text").attr("x", p.tx).attr("y", p.ty).attr("text-anchor", "middle").attr("font-size", 33.6).text(p.title);
  p.labels.forEach(function(l) {
    g.append("text").attr("transform", "translate(" + l[1] + "," + l[2] + ") rotate(-35)").attr("font-size", 26).text(l[0]);
  });
}

var panels = [
  { title: "NZP1 Inoculum", tx: 586, ty: 43, box: [108.4, 1034.6, 50, 276], xr: [142.3, 861.5], yr: [267, 88], dashY: 106, dash: [[112, 1033]],
    grey: nzpGrey, red: nzpRed, orange: nzpOrange, green: nzpGreen, navy: nzpNavy,
    labels: [["I43T", 193, 191]] },
  { title: "Horse P, ACUTE (day 11)", tx: 1672, ty: 43, box: [1188.4, 2119.5, 50, 277], xr: [1222.2, 1944.4], yr: [269, 89], dashY: 107, dash: [[1191, 2117]],
    grey: acuteGrey, red: acuteRed, orange: acuteOrange, green: acuteGreen, navy: acuteNavy,
    labels: [["R41G", 1223, 160], ["I43T", 1280, 153], ["P44S", 1291, 176]] },
  { title: "Horse J, ACUTE (day 9)", tx: 586, ty: 376, box: [101.5, 1036.6, 392, 621], xr: [136.3, 860.5], yr: [612, 431], dashY: 449, dash: [[105, 1035]], mixed: true, core: jCore, labelDy: 1,
    grey: jGrey, red: jRed, orange: jOrange, green: jGreen, navy: jNavy,
    labels: [["I43T", 187, 530], ["G187V", 230, 532], ["G340D", 270, 536], ["A688V", 304, 444], ["I889V", 424, 442], ["D2727N", 912, 508]] },
  { title: "Horse P, FV (day 65)", tx: 1671, ty: 376, box: [1184.4, 2119.5, 392, 621], xr: [1219.2, 1944.4], yr: [612, 431], dashY: 449, dash: [[1188, 1312], [1428, 2117]], mixed: true, core: fvCore, labelDy: 5,
    grey: fvGrey, red: fvRed, orange: fvOrange, green: fvGreen, navy: fvNavy,
    labels: [["R41G", 1203, 508], ["I43T", 1246, 506], ["G243S", 1291, 492], ["E325Q", 1278, 537], ["E408A", 1370, 457], ["E408Q", 1354, 500], ["M409L", 1377, 513], ["V473I", 1384, 532], ["D614N", 1447, 513], ["A688V", 1454, 531], ["V699A", 1483, 540], ["N2112S", 1807, 537], ["K2426R", 1904, 520], ["L2457F", 1957, 517], ["R2864K", 2036, 501]] },
  { title: "CU heterologous inoculum", tx: 585, ty: 712, box: [105.4, 1036.6, 722, 949], xr: [139.3, 861.5], yr: [941, 761], dashY: 779, dash: [[108, 1035]], mixed: true, core: cuCore, labelDy: 2.5,
    grey: cuGrey, red: cuRed, orange: cuOrange, green: cuGreen, navy: cuNavy,
    labels: [] },
  { title: "Horse P, Challenge (hom.)", tx: 1671, ty: 712, box: [1184.4, 2119.5, 722, 951], xr: [1218.7, 1944.4], yr: [942, 761], dashY: 779, dash: [[1189, 1295], [1370, 1776], [1851, 1966], [2075, 2117]], core: chCore, labelDy: -1,
    grey: chGrey, red: chRed, orange: chOrange, green: chGreen, navy: chNavy,
    labels: [["M409L", 1314, 772], ["L502P", 1403, 773], ["K4I", 1230, 866], ["Q1739R", 1673, 838], ["G2006S", 1816, 784], ["E2682G", 1997, 785]] }
];
panels.forEach(scatterPanel);

genomeMap({ l: 175, r: 986.8, t: 1007, b: 1048, ll: 141.3, lr: 1015.7, sw: 3.4, fs: 25, ly: 1066 });
genomeMap({ l: 1248.5, r: 2060, t: 1007, b: 1048, ll: 1214.2, lr: 2088.6, sw: 3.4, fs: 25, ly: 1066 });

// panel letters
[["A", 7, 38], ["B", 12, 1105], ["C", 1115, 1111], ["D", 9, 1405], ["E", 1117, 1405]].forEach(function(l) {
  svg.append("text").attr("x", l[1]).attr("y", l[2]).attr("font-size", 43).attr("font-weight", "bold").text(l[0]);
});

// panel B
function pieChart(values, cx, cy, r, sw) {
  var g = svg.append("g").attr("transform", "translate(" + cx + "," + cy + ")");
  var arc = d3.arc().innerRadius(0).outerRadius(r);
  g.selectAll("path").data(d3.pie().sort(null)(values)).join("path")
    .attr("d", arc).attr("fill", function(d, i) { return pieColors[i]; })
    .attr("stroke", function(d, i) { return pieEdges[i]; }).attr("stroke-width", 0.9);
  g.append("circle").attr("r", r).attr("fill", "none").attr("stroke", "#222").attr("stroke-width", sw);
}
pieChart(pieInoculum, 110, 1232, 99.5, 2.6);
[pieO, pieR, pieP, pieN].forEach(function(v, i) {
  var cx = [509, 675, 842, 1008][i];
  pieChart(v, cx, 1254, 68.7, 1.6);
  svg.append("text").attr("x", cx).attr("y", 1142).attr("text-anchor", "middle").attr("font-size", 27.5).text(pieNames[i + 1]);
  svg.append("text").attr("x", cx).attr("y", 1174).attr("text-anchor", "middle").attr("font-size", 27.5).text(pieSub[i + 1]);
});
svg.append("text").attr("x", 224).attr("y", 1142).attr("font-size", 28.5).text("CU heterologous");
svg.append("text").attr("x", 224).attr("y", 1174).attr("font-size", 28.5).text("inoculum");
var legendY = [1191, 1229, 1268];
var legendFill = [pieColors[2], pieColors[0], pieColors[1]];
var romans = ["I", "II", "III"];
legendY.forEach(function(y, i) {
  svg.append("rect").attr("x", 228).attr("y", y).attr("width", 36).attr("height", 21)
    .attr("fill", legendFill[i]).attr("stroke", i == 2 ? "#5a1208" : "#111").attr("stroke-width", 2.6);
  var t = svg.append("text").attr("x", 281).attr("y", y + 20).attr("font-size", 28.5);
  t.append("tspan").text("CU");
  t.append("tspan").attr("font-size", 17).attr("dy", -11).text(romans[i]);
});

// panel C
var conX = d3.scaleLinear().domain([1, 2946]).range([1249.2, 2056.8]);
var conRows = [["NZP1", conNZP1, 1141], ["CU", conCU1, 1171, "I"], ["CU", conCU2, 1203, "II"], ["CU", conCU3, 1235, "III"]];
conRows.forEach(function(r, i) {
  svg.append("rect").attr("x", 1249.2).attr("y", r[2]).attr("width", 807.6).attr("height", 24).attr("fill", "#e6e7e8");
  svg.append("g").selectAll("line").data(r[1]).join("line")
    .attr("x1", function(d) { return conX(d); }).attr("x2", function(d) { return conX(d); })
    .attr("y1", r[2]).attr("y2", r[2] + 24)
    .attr("stroke", i == 0 ? "#222" : "#555").attr("stroke-width", i == 0 ? 1.5 : 1.2);
  var t = svg.append("text").attr("x", 1173.6).attr("y", r[2] + 21).attr("font-size", 25);
  t.append("tspan").text(r[0]);
  if (r[3]) t.append("tspan").attr("font-size", 15).attr("dy", -11).text(r[3]);
});
var conAxis = svg.append("g").attr("transform", "translate(0,1268)")
  .call(d3.axisBottom(conX).tickValues(conTicks).tickFormat(d3.format("d")).tickSize(6).tickPadding(4));
conAxis.select(".domain").remove();
conAxis.selectAll("line").attr("stroke", "#111").attr("stroke-width", 1.4);
conAxis.selectAll("text").attr("font-size", 26).attr("font-family", null).style("fill", "#111");
genomeMap({ l: 1247.2, r: 2060.8, t: 1310, b: 1351, ll: 1247.2, lr: 2060.8, sw: 4, fs: 25, ly: 1371 });

// panel D
var dX = d3.scaleLinear().domain([0, 10000]).range([105.5, 733]);
var dY = d3.scaleLinear().domain([0, 0.3]).range([1714, 1467]);
var piS = piSx.map(function(x, i) { return [x, piSy[i]]; }).concat(piSlow).sort(function(a, b) { return a[0] - b[0]; });
var scanLine = d3.line().x(function(d) { return dX(d[0]); }).y(function(d) { return dY(d[1]); });
regionLines.forEach(function(v) {
  svg.append("line").attr("x1", dX(v)).attr("x2", dX(v)).attr("y1", 1483).attr("y2", 1714)
    .attr("stroke", "#111").attr("stroke-width", 3.6).attr("stroke-linecap", "round").attr("stroke-dasharray", "0 11.7");
});
svg.append("path").attr("d", scanLine(piS)).attr("fill", "none").attr("stroke", "#5cad3c").attr("stroke-width", 2.2);
svg.append("path").attr("d", scanLine(piNscan)).attr("fill", "none").attr("stroke", "#ea6a52").attr("stroke-width", 3.2);
svg.append("path").attr("d", scanLine(piNscan)).attr("fill", "none").attr("stroke", "#f7b08c").attr("stroke-width", 2);
var dxAxis = svg.append("g").attr("transform", "translate(0,1714)")
  .call(d3.axisBottom(dX).tickValues(scanTicks).tickFormat(d3.format("d")).tickSize(9).tickPadding(6));
var dyAxis = svg.append("g").attr("transform", "translate(105.5,0)")
  .call(d3.axisLeft(dY).tickValues(scanY).tickFormat(d3.format(".1f")).tickSize(9).tickPadding(5));
dxAxis.select(".domain").attr("stroke", "#111").attr("stroke-width", 4.5);
dyAxis.select(".domain").attr("stroke", "#111").attr("stroke-width", 4);
[dxAxis, dyAxis].forEach(function(a) {
  a.selectAll("line").attr("stroke", "#111").attr("stroke-width", 4);
  a.selectAll("text").attr("font-family", null).style("fill", "#111");
});
dxAxis.selectAll("text").attr("font-size", 24);
dxAxis.selectAll("text").filter(function(d) { return d == 10000; }).attr("dx", -16);
dyAxis.selectAll("text").attr("font-size", 24);
svg.append("text").attr("x", 405).attr("y", 1430).attr("text-anchor", "middle").attr("font-size", 27).text("Diversity scan, CU heterologous inoculum");
svg.append("text").attr("transform", "translate(43,1583) rotate(-90)").attr("text-anchor", "middle").attr("font-size", 28).text("Parwise distance");
svg.append("text").attr("x", 185).attr("y", 1473).attr("text-anchor", "middle").attr("font-size", 27).text("E1");
svg.append("text").attr("x", 235).attr("y", 1473).attr("text-anchor", "middle").attr("font-size", 27).text("E2");
svg.append("line").attr("x1", 615).attr("x2", 642).attr("y1", 1476).attr("y2", 1476).attr("stroke", "#ea6a52").attr("stroke-width", 6);
svg.append("line").attr("x1", 616).attr("x2", 641).attr("y1", 1476).attr("y2", 1476).attr("stroke", "#f7b08c").attr("stroke-width", 4);
svg.append("line").attr("x1", 615).attr("x2", 642).attr("y1", 1514).attr("y2", 1514).attr("stroke", "#5cad3c").attr("stroke-width", 4.5);
svg.append("text").attr("x", 651).attr("y", 1486).attr("font-size", 28).text("πN");
svg.append("text").attr("x", 651).attr("y", 1524).attr("font-size", 28).text("πS");
genomeMap({ l: 127.3, r: 682.4, t: 1767, b: 1795, ll: 106.4, lr: 701.3, sw: 3.6, fs: 18, ly: 1807 });

// panel E
var eX = d3.scaleLinear().domain([200, 700]).range([1207.3, 1811.2]);
var eYs = d3.scaleLinear().domain([0, 0.08]).range([1711, 1466]);
var ePts = e2aa.map(function(a, i) { return [a, e2pi[i]]; });
var eLine = d3.line().x(function(d) { return eX(d[0]); }).y(function(d) { return eYs(d[1]); });
var exAxis = svg.append("g").attr("transform", "translate(0,1711)")
  .call(d3.axisBottom(eX).tickValues(eTicks).tickFormat(d3.format("d")).tickSize(10).tickPadding(6));
exAxis.select(".domain").attr("d", "M1186.5,0H1811.2").attr("stroke", "#111").attr("stroke-width", 4);
exAxis.selectAll("line").attr("stroke", "#111").attr("stroke-width", 3);
exAxis.selectAll("text").attr("font-size", 21).attr("font-family", null).style("fill", "#111")
  .attr("transform", "rotate(-90)").attr("text-anchor", "end").attr("x", -13).attr("y", 0).attr("dy", "0.36em");
var eyAxis = svg.append("g").attr("transform", "translate(1186.5,0)")
  .call(d3.axisLeft(eYs).tickValues(eY).tickFormat(d3.format(".2f")).tickSize(9).tickPadding(4));
eyAxis.select(".domain").attr("stroke", "#111").attr("stroke-width", 3.4);
eyAxis.selectAll("line").attr("stroke", "#111").attr("stroke-width", 3.4);
eyAxis.selectAll("text").attr("font-size", 25).attr("font-family", null).style("fill", "#111");
svg.append("path").attr("d", eLine(ePts)).attr("fill", "none").attr("stroke", "#ea6a52").attr("stroke-width", 5);
svg.append("path").attr("d", eLine(ePts)).attr("fill", "none").attr("stroke", "#f7b08c").attr("stroke-width", 3.8);
svg.append("text").attr("x", 1500).attr("y", 1428).attr("text-anchor", "middle").attr("font-size", 27.5).text("Diversity scan, CU heterologous inoculum");
svg.append("text").attr("transform", "translate(1113,1578) rotate(-90)").attr("text-anchor", "middle").attr("font-size", 28).text("Parwise distance");
svg.append("line").attr("x1", 1742.5).attr("x2", 1769.4).attr("y1", 1484).attr("y2", 1484).attr("stroke", "#ea6a52").attr("stroke-width", 5);
svg.append("line").attr("x1", 1743.5).attr("x2", 1768.4).attr("y1", 1484).attr("y2", 1484).attr("stroke", "#f7b08c").attr("stroke-width", 3);
svg.append("text").attr("x", 1772).attr("y", 1494).attr("font-size", 28).text("πN");
[1767, 1796].forEach(function(y) {
  svg.append("line").attr("x1", 1186.5).attr("x2", 1811.2).attr("y1", y).attr("y2", y).attr("stroke", "#111").attr("stroke-width", 3.6);
});
svg.append("line").attr("x1", eX(eBoundary)).attr("x2", eX(eBoundary)).attr("y1", 1767).attr("y2", 1796).attr("stroke", "#111").attr("stroke-width", 3.2);
svg.append("text").attr("x", 1304.8).attr("y", 1782).attr("dy", "0.36em").attr("text-anchor", "middle").attr("font-size", 20).text("E1");
svg.append("text").attr("x", 1627).attr("y", 1782).attr("dy", "0.36em").attr("text-anchor", "middle").attr("font-size", 20).text("E2");
</script>
</body>
</html>
